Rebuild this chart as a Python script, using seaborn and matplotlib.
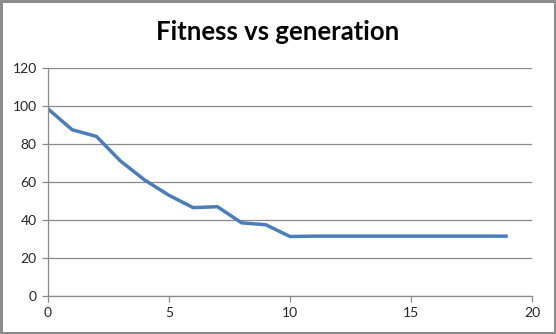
import matplotlib
matplotlib.use("Agg")
import matplotlib.pyplot as plt
import seaborn as sns
import pandas as pd

generation = list(range(20))
fitness = [98.5, 87.5, 84, 71, 61, 53, 46.5, 47, 38.5, 37.5,
           31.3, 31.5, 31.5, 31.5, 31.5, 31.5, 31.5, 31.5, 31.5, 31.5]
x_ticks = [0, 5, 10, 15, 20]
y_ticks = [0, 20, 40, 60, 80, 100, 120]
title = "Fitness vs generation"

df = pd.DataFrame({"generation": generation, "fitness": fitness})

sns.set_theme(style="white")
plt.rcParams["font.family"] = ["Lato", "DejaVu Sans"]

fig = plt.figure(figsize=(5.56, 3.34), dpi=100)
fig.patch.set_edgecolor("#8c8c8c")
fig.patch.set_linewidth(2.5)
ax = fig.add_axes([0.0863, 0.1138, 0.8705, 0.6826])

sns.lineplot(data=df, x="generation", y="fitness", ax=ax,
             color="#4a7ebb", linewidth=2.5, solid_joinstyle="round",
             solid_capstyle="butt")

ax.set_xlim(0, 20)
ax.set_ylim(0, 120)
ax.set_xticks(x_ticks)
ax.set_yticks(y_ticks)
ax.set_xlabel("")
ax.set_ylabel("")
ax.yaxis.grid(True, color="#8a8a8a", linewidth=0.9)
ax.xaxis.grid(False)
ax.set_axisbelow(True)

for side in ["top", "right"]:
    ax.spines[side].set_visible(False)
for side in ["left", "bottom"]:
    ax.spines[side].set_color("#8a8a8a")
    ax.spines[side].set_linewidth(0.9)

ax.tick_params(axis="both", which="major", direction="out", length=4,
               width=0.9, color="#8a8a8a", labelsize=10,
               labelcolor="#262626", pad=4, left=True, bottom=True)

fig.text(0.5, 0.903, title, ha="center", va="center",
         fontsize=18.5, fontweight="bold", color="#000000")

fig.savefig("out.png", dpi=100, edgecolor=fig.get_edgecolor())
